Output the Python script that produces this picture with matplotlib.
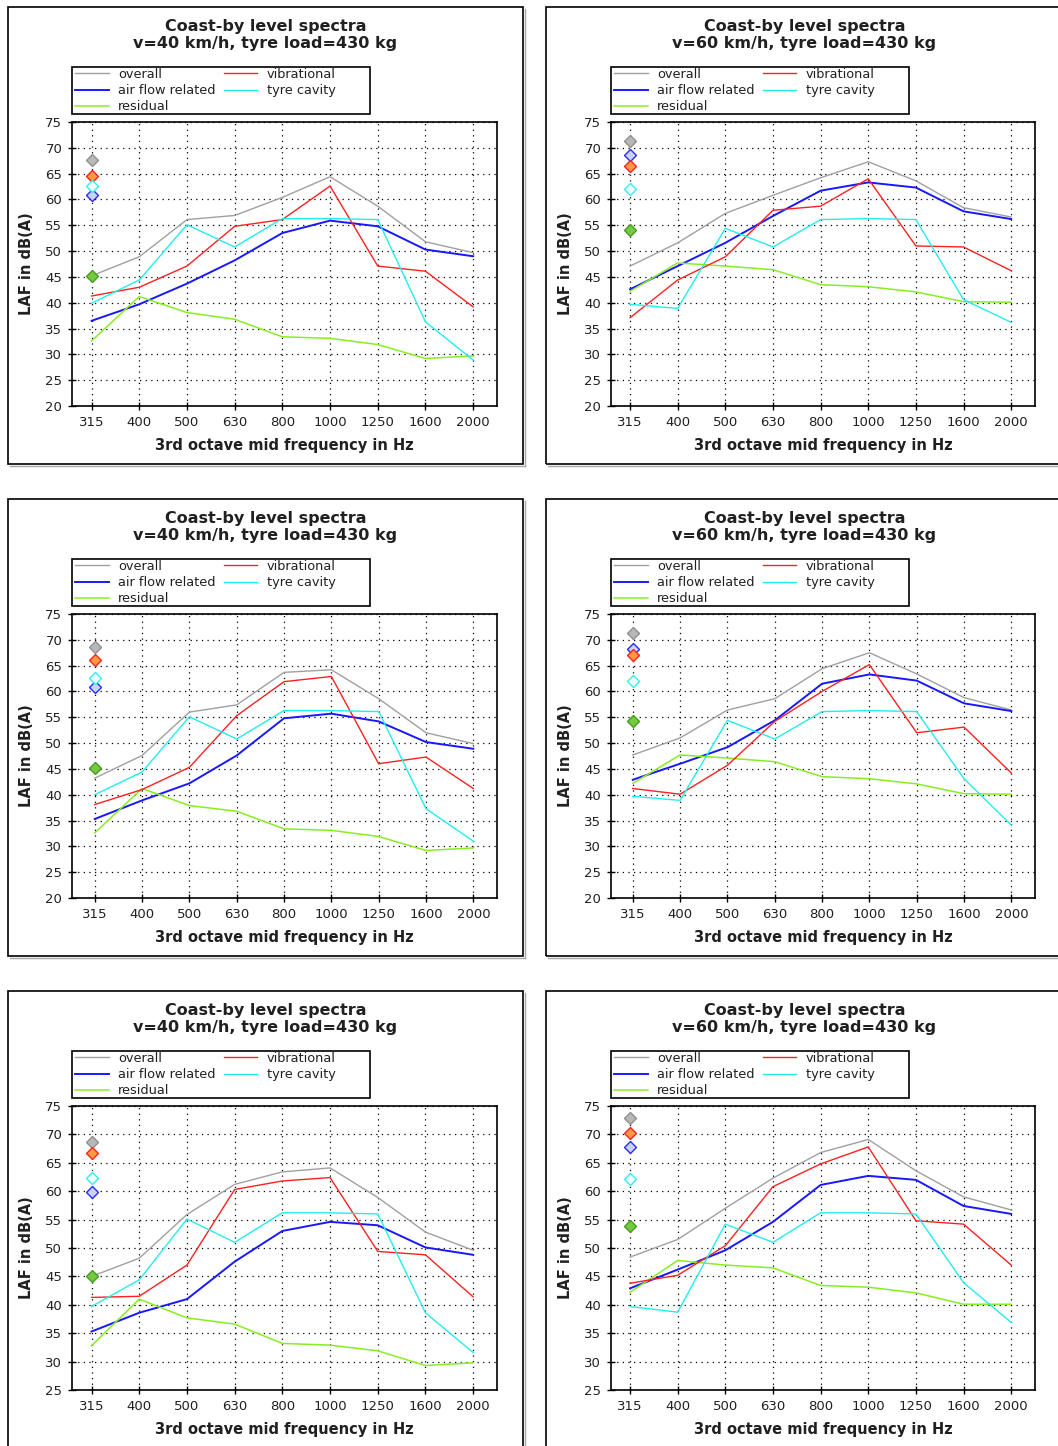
import matplotlib
matplotlib.use("Agg")
import matplotlib.pyplot as plt
from matplotlib.patches import Rectangle
from matplotlib.lines import Line2D

W, H = 1058, 1446
plt.rcParams['font.family'] = ['DejaVu Sans']

freq_labels = ["315", "400", "500", "630", "800", "1000", "1250", "1600", "2000"]
series_names = ["overall", "air flow related", "residual", "vibrational", "tyre cavity"]

# Panel 1: top-left, v=40
p1_overall = [45.2, 48.9, 56.1, 56.9, 60.4, 64.4, 58.7, 51.8, 49.7]
p1_airflow = [36.5, 39.7, 43.7, 48.2, 53.5, 55.9, 54.8, 50.3, 49.0]
p1_residual = [32.6, 41.2, 38.1, 36.8, 33.4, 33.1, 31.9, 29.2, 29.7]
p1_vibr = [41.3, 43.0, 47.1, 54.8, 56.1, 62.6, 47.1, 46.1, 39.2]
p1_cavity = [39.9, 44.4, 55.1, 50.8, 56.3, 56.3, 56.1, 36.3, 28.9]
p1_totals = [67.7, 60.8, 45.2, 64.5, 62.6]

# Panel 2: top-right, v=60
p2_overall = [47.1, 51.6, 57.3, 60.8, 64.2, 67.3, 63.6, 58.4, 56.6]
p2_airflow = [42.6, 47.1, 51.6, 56.8, 61.7, 63.3, 62.3, 57.7, 56.2]
p2_residual = [42.2, 47.7, 47.1, 46.4, 43.5, 43.1, 42.1, 40.2, 40.1]
p2_vibr = [37.1, 44.4, 48.9, 57.9, 58.7, 64.0, 51.0, 50.8, 46.2]
p2_cavity = [39.7, 38.9, 54.4, 50.8, 56.1, 56.3, 56.1, 40.6, 36.2]
p2_totals = [71.3, 68.6, 54.0, 66.4, 62.1]

# Panel 3: middle-left, v=40
p3_overall = [43.2, 47.6, 56.0, 57.4, 63.7, 64.2, 58.6, 52.0, 49.9]
p3_airflow = [35.3, 38.9, 42.2, 47.6, 54.8, 55.7, 54.2, 50.2, 48.9]
p3_residual = [32.6, 41.2, 37.9, 36.8, 33.4, 33.1, 31.9, 29.2, 29.7]
p3_vibr = [38.1, 41.0, 45.3, 55.3, 61.9, 62.9, 46.0, 47.3, 41.2]
p3_cavity = [40.0, 44.4, 55.1, 50.8, 56.3, 56.3, 56.1, 37.3, 31.0]
p3_totals = [68.6, 60.8, 45.2, 66.0, 62.6]

# Panel 4: middle-right, v=60
p4_overall = [47.7, 51.0, 56.4, 58.6, 64.4, 67.5, 63.4, 58.8, 56.4]
p4_airflow = [42.9, 46.0, 49.2, 54.4, 61.5, 63.3, 62.1, 57.7, 56.2]
p4_residual = [42.2, 47.7, 47.1, 46.4, 43.5, 43.1, 42.1, 40.2, 40.1]
p4_vibr = [41.2, 40.1, 45.7, 54.2, 60.0, 65.2, 52.0, 53.1, 44.2]
p4_cavity = [39.7, 38.9, 54.4, 50.8, 56.1, 56.3, 56.1, 43.1, 34.1]
p4_totals = [71.3, 68.2, 54.2, 67.1, 62.1]

# Panel 5: bottom-left, v=40
p5_overall = [45.0, 48.2, 55.9, 61.2, 63.4, 64.1, 58.9, 52.8, 49.6]
p5_airflow = [35.3, 38.6, 41.0, 47.6, 53.0, 54.6, 54.0, 50.1, 48.8]
p5_residual = [32.8, 41.0, 37.7, 36.6, 33.2, 32.9, 31.9, 29.3, 29.8]
p5_vibr = [41.3, 41.5, 47.0, 60.3, 61.8, 62.4, 49.4, 48.8, 41.4]
p5_cavity = [39.7, 44.4, 55.1, 51.0, 56.2, 56.2, 56.0, 38.6, 31.6]
p5_totals = [68.7, 59.8, 45.1, 66.8, 62.4]

# Panel 6: bottom-right, v=60
p6_overall = [48.4, 51.5, 57.0, 62.3, 66.8, 69.1, 63.6, 59.0, 56.7]
p6_airflow = [42.9, 46.2, 49.6, 54.6, 61.1, 62.7, 62.0, 57.4, 56.0]
p6_residual = [42.2, 47.8, 47.0, 46.5, 43.4, 43.1, 42.1, 40.1, 40.1]
p6_vibr = [43.8, 45.2, 50.4, 60.8, 64.8, 67.8, 54.8, 54.2, 47.0]
p6_cavity = [39.7, 38.7, 54.2, 51.0, 56.2, 56.2, 56.0, 43.9, 36.9]
p6_totals = [72.8, 67.7, 53.9, 70.3, 62.1]

titles = ["Coast-by level spectra\nv=40 km/h, tyre load=430 kg",
          "Coast-by level spectra\nv=60 km/h, tyre load=430 kg"]

line_colors = ["#a0a0a0", "#1818ff", "#88ee22", "#ff2020", "#22eeee"]
line_widths = [1.0, 1.4, 1.1, 1.0, 1.0]
dia_face = ["#b8b8b8", "#c8d4f4", "#78c840", "#ff9a40", "#f0ffff"]
dia_edge = ["#909090", "#2a2aff", "#40a020", "#ff2020", "#30f0f0"]

panels = [
    dict(data=[p1_overall, p1_airflow, p1_residual, p1_vibr, p1_cavity], tot=p1_totals,
         title=titles[0], col=0, row=0, ymin=20, xl=-0.41),
    dict(data=[p2_overall, p2_airflow, p2_residual, p2_vibr, p2_cavity], tot=p2_totals,
         title=titles[1], col=1, row=0, ymin=20, xl=-0.40),
    dict(data=[p3_overall, p3_airflow, p3_residual, p3_vibr, p3_cavity], tot=p3_totals,
         title=titles[0], col=0, row=1, ymin=20, xl=-0.48),
    dict(data=[p4_overall, p4_airflow, p4_residual, p4_vibr, p4_cavity], tot=p4_totals,
         title=titles[1], col=1, row=1, ymin=20, xl=-0.46),
    dict(data=[p5_overall, p5_airflow, p5_residual, p5_vibr, p5_cavity], tot=p5_totals,
         title=titles[0], col=0, row=2, ymin=25, xl=-0.41),
    dict(data=[p6_overall, p6_airflow, p6_residual, p6_vibr, p6_cavity], tot=p6_totals,
         title=titles[1], col=1, row=2, ymin=25, xl=-0.40),
]

fig = plt.figure(figsize=(W / 100, H / 100), dpi=100)

def fx(px):
    return px / W

def fy(py):
    return 1 - py / H

col_ax = [(72, 497), (611, 1035)]
col_frame = [(8, 523), (546, 1070)]
row_off = [0, 492, 984]
txt_col = "#202020"

for p in panels:
    x0, x1 = col_ax[p["col"]]
    off = row_off[p["row"]]
    top, bot = 122 + off, 406 + off
    # panel frame with light shadow on right and bottom
    fxa, fxb = col_frame[p["col"]]
    fig.add_artist(Line2D([fx(fxb + 1.5), fx(fxb + 1.5)], [fy(9 + off), fy(465.5 + off)],
                          transform=fig.transFigure, color="#a8a8a8", lw=1.0))
    fig.add_artist(Line2D([fx(fxa + 2), fx(fxb + 1.5)], [fy(465.5 + off), fy(465.5 + off)],
                          transform=fig.transFigure, color="#a8a8a8", lw=1.0))
    fr = Rectangle((fx(fxa), fy(464 + off)), fx(fxb - fxa), (464 - 7) / H,
                   transform=fig.transFigure, fill=False, edgecolor="black", lw=1.2)
    fig.add_artist(fr)

    ax = fig.add_axes([fx(x0), fy(bot), fx(x1 - x0), (bot - top) / H])
    xs = list(range(len(freq_labels)))
    for vals, c, lw in zip(p["data"], line_colors, line_widths):
        ax.plot(xs, vals, color=c, lw=lw, zorder=3)
    for v, fc, ec in zip(p["tot"], dia_face, dia_edge):
        ax.plot([0], [v], marker="D", ms=6.5, mfc=fc, mec=ec, mew=1.0,
                linestyle="none", zorder=4)
    ax.set_xlim(p["xl"], 8.5)
    ax.set_ylim(p["ymin"], 75)
    ax.set_xticks(xs)
    ax.set_xticklabels(freq_labels)
    ax.set_yticks(range(p["ymin"], 76, 5))
    ax.grid(True, color="black", linestyle=(0, (1, 3.5)), lw=0.9)
    ax.tick_params(direction="inout", length=6, width=1, labelsize=9.5,
                   labelcolor=txt_col, pad=4)
    for s in ax.spines.values():
        s.set_linewidth(1.2)
    ax.set_ylabel("LAF in dB(A)", fontsize=10.5, fontweight="bold", color=txt_col, labelpad=8)
    ax.set_xlabel("3rd octave mid frequency in Hz", fontsize=10.5, fontweight="bold",
                  color=txt_col, labelpad=7)

    # title
    cx = (fxa + min(fxb, 1063)) / 2
    fig.text(fx(cx), fy(35 + off), p["title"], ha="center", va="center",
             fontsize=11.5, fontweight="bold", color=txt_col, linespacing=1.15)

    # legend frame + legend
    lf = Rectangle((fx(x0), fy(114 + off)), fx(370 - 72), (114 - 67) / H,
                   transform=fig.transFigure, facecolor="white", edgecolor="black", lw=1.2)
    fig.add_artist(lf)
    handles = [Line2D([0], [0], color=c, lw=lw) for c, lw in zip(line_colors, line_widths)]
    leg = fig.legend(handles, series_names, ncol=2, loc="upper left",
                     bbox_to_anchor=(fx(x0 + 3), fy(68 + off)),
                     bbox_transform=fig.transFigure,
                     prop={"size": 9.3}, frameon=False,
                     borderpad=0.0, labelspacing=0.25, handlelength=2.6,
                     handletextpad=0.75, columnspacing=0.6, borderaxespad=0)
    for t in leg.get_texts():
        t.set_color(txt_col)

fig.savefig("out.png", dpi=100)
